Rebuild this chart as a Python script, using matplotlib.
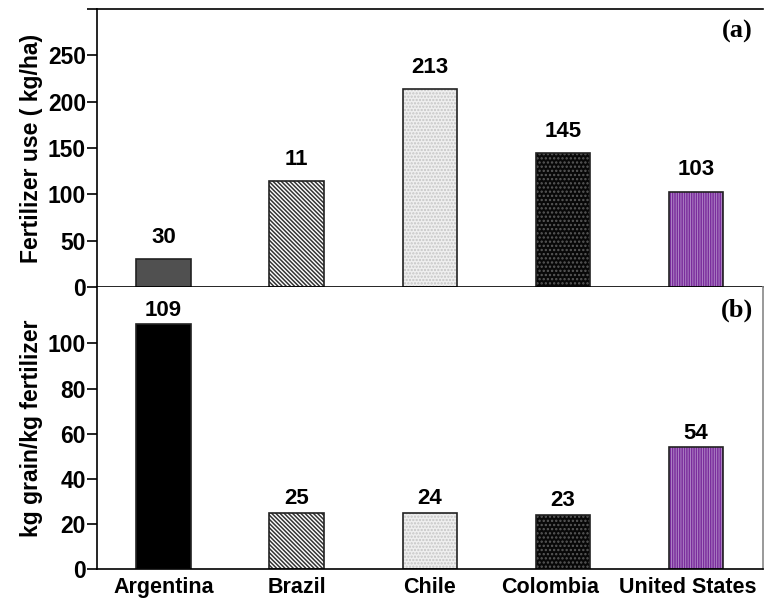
import matplotlib.pyplot as plt
import matplotlib.transforms as mtransforms
import numpy as np

plt.rcParams['font.family'] = ['Liberation Sans', 'DejaVu Sans']
plt.rcParams['font.weight'] = 'bold'

countries = ["Argentina", "Brazil", "Chile", "Colombia", "United States"]
fert_use = [30, 114, 214, 145, 103]
fert_labels = ["30", "11", "213", "145", "103"]
efficiency = [108.5, 25, 25, 24, 54]
eff_labels = ["109", "25", "24", "23", "54"]

# face colour, hatch colour, hatch pattern (one per country)
top_faces = ['#505050', 'white', '#efefef', '#080808', '#b58dcb']
bot_faces = ['#000000', 'white', '#efefef', '#080808', '#b58dcb']
hatch_cols = ['#505050', '#333333', '#c4c4c4', '#5a5a5a', '#7a2d9c']
hatches = [None, '\\' * 8, '.....', '....', '|' * 7]

fig = plt.figure(figsize=(7.65, 6.01), dpi=100)
ax1 = fig.add_axes([0.1268, 0.5225, 0.8702, 0.4625])
ax2 = fig.add_axes([0.1268, 0.0532, 0.8702, 0.4693])

ind = np.arange(len(countries))
width = 0.41
fs = 16.5


def draw_bars(ax, vals, faces):
    for i, v in enumerate(vals):
        ax.bar(ind[i], v, width, color=faces[i], edgecolor=hatch_cols[i],
               hatch=hatches[i], linewidth=0)
        ax.bar(ind[i], v, width, fill=False, edgecolor='#222222', linewidth=1.2)


plt.rcParams['hatch.linewidth'] = 1.1
draw_bars(ax1, fert_use, top_faces)
draw_bars(ax2, efficiency, bot_faces)

for i, v in enumerate(fert_use):
    ax1.text(ind[i], v + 12, fert_labels[i], ha='center', va='bottom',
             fontsize=16, fontweight='bold')
for i, v in enumerate(efficiency):
    ax2.text(ind[i], v + 1.5, eff_labels[i], ha='center', va='bottom',
             fontsize=16, fontweight='bold')

ax1.set_xlim(-0.5, 4.5)
ax1.set_ylim(0, 300)
ax1.set_yticks([0, 50, 100, 150, 200, 250, 300])
ax1.set_yticklabels(['0', '50', '100', '150', '200', '250', ''])
ax1.set_xticks([])
ax1.spines['right'].set_visible(False)
ax1.set_ylabel("Fertilizer use ( kg/ha)", fontsize=fs, fontweight='bold', labelpad=3)
ax1.text(0.985, 0.96, "(a)", transform=ax1.transAxes, ha='right', va='top',
         fontsize=19, fontweight='bold', family='Liberation Serif')

ax2.set_xlim(-0.5, 4.5)
ax2.set_ylim(0, 125)
ax2.set_yticks([0, 20, 40, 60, 80, 100])
ax2.set_xticks(ind)
ax2.set_xticklabels(countries, fontsize=15.5, fontweight='bold')
ax2.tick_params(axis='x', length=0, pad=6)
# the right-hand labels sit a little left of their bars, as in the original
for lab, dx in zip(ax2.get_xticklabels()[3:], (-0.13, -0.08)):
    lab.set_transform(lab.get_transform() +
                      mtransforms.ScaledTranslation(dx, 0, fig.dpi_scale_trans))
ax2.spines['top'].set_visible(False)
ax2.spines['right'].set_color('#888888')
ax2.set_ylabel("kg grain/kg fertilizer", fontsize=fs, fontweight='bold', labelpad=3)
ax2.text(0.985, 0.96, "(b)", transform=ax2.transAxes, ha='right', va='top',
         fontsize=19, fontweight='bold', family='Liberation Serif')

for ax in (ax1, ax2):
    ax.tick_params(axis='y', labelsize=fs, length=7, width=1.2, pad=1)
    for s in ax.spines.values():
        s.set_linewidth(1.2)

fig.savefig("out.png")
